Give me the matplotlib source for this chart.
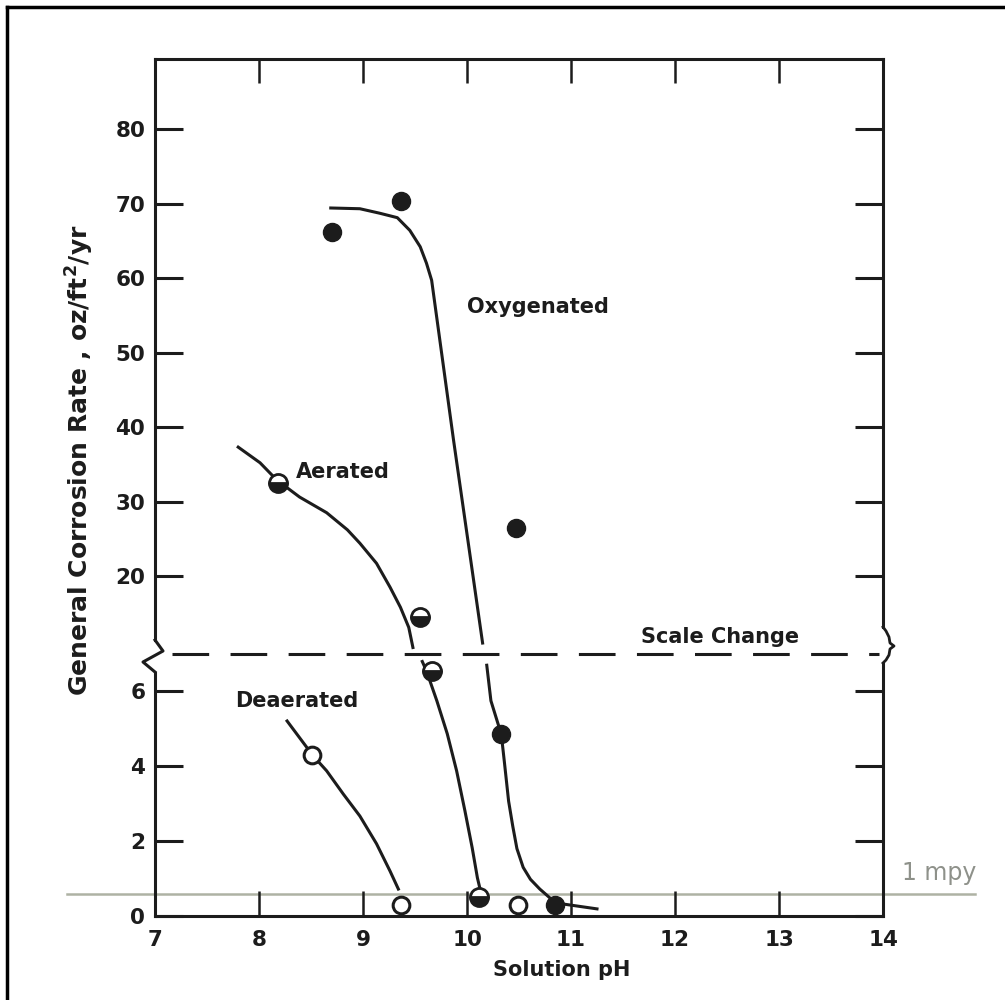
import numpy as np
import matplotlib.pyplot as plt
from matplotlib.lines import Line2D

plt.rcParams['font.family'] = ['DejaVu Sans']
plt.rcParams['font.weight'] = 'bold'

# data
ph_oxy = [8.70, 9.37, 10.47, 10.33, 10.85]
rate_oxy = [66.2, 70.3, 26.5, 4.85, 0.30]
ph_aer = [8.18, 9.55, 9.66, 10.12]
rate_aer = [32.5, 14.5, 6.55, 0.50]
ph_dea = [8.51, 9.37, 10.49]
rate_dea = [4.30, 0.30, 0.30]

# hand drawn trend curves (nan = gap at the scale change)
oxy_curve_ph = [8.69, 8.97, 9.16, 9.33, 9.45, 9.55, 9.61, 9.66, 9.87, 10.15,
                np.nan,
                10.19, 10.23, 10.33, 10.36, 10.40, 10.44, 10.48, 10.54, 10.61,
                10.70, 10.77, 10.85, 11.25]
oxy_curve_rate = [69.4, 69.3, 68.7, 68.1, 66.4, 64.2, 62.0, 59.7, 38.3, 11.0,
                  np.nan,
                  6.7, 5.75, 4.85, 4.1, 3.07, 2.4, 1.8, 1.3, 0.98,
                  0.72, 0.55, 0.35, 0.19]
aer_curve_ph = [7.80, 8.01, 8.17, 8.39, 8.65, 8.85, 8.97, 9.13, 9.26, 9.36,
                9.44, 9.48, np.nan,
                9.57, 9.61, 9.71, 9.81, 9.90, 9.98, 10.05, 10.10, 10.13]
aer_curve_rate = [37.3, 35.2, 32.9, 30.6, 28.5, 26.2, 24.4, 21.7, 18.5, 15.8,
                  13.1, 10.4, np.nan,
                  6.8, 6.55, 5.75, 4.87, 3.88, 2.81, 1.82, 1.02, 0.67]
dea_curve_ph = [8.27, 8.52, 8.65, 8.81, 8.97, 9.13, 9.26, 9.34]
dea_curve_rate = [5.21, 4.28, 3.88, 3.26, 2.67, 1.93, 1.20, 0.72]

x_ticks = [7, 8, 9, 10, 11, 12, 13, 14]
y_ticks_lo = [0, 2, 4, 6]
y_ticks_hi = [20, 30, 40, 50, 60, 70, 80]
mpy_line = 0.59

ink = '#1c1c1c'
W, H = 1005, 1000


def fx(px):
    return px / W


def fy(py):
    return 1 - py / H


fig = plt.figure(figsize=(10.05, 10), dpi=100)
ax_hi = fig.add_axes([fx(155), fy(654), fx(883) - fx(155), fy(59) - fy(654)])
ax_lo = fig.add_axes([fx(155), fy(916), fx(883) - fx(155), fy(654) - fy(916)])

for ax in (ax_hi, ax_lo):
    ax.plot(oxy_curve_ph, oxy_curve_rate, color=ink, lw=2.2)
    ax.plot(aer_curve_ph, aer_curve_rate, color=ink, lw=2.2)
    ax.plot(dea_curve_ph, dea_curve_rate, color=ink, lw=2.2)
    ax.plot(ph_oxy, rate_oxy, 'o', ms=13, mfc=ink, mec=ink, zorder=5)
    ax.plot(ph_aer, rate_aer, 'o', ms=13, fillstyle='bottom', mfc=ink,
            markerfacecoloralt='white', mec=ink, mew=2, zorder=5)
    ax.plot(ph_dea, rate_dea, 'o', ms=12, mfc='white', mec=ink, mew=2.2,
            zorder=5)
    ax.set_xlim(7, 14)
    for s in ax.spines.values():
        s.set_linewidth(2.2)
        s.set_color(ink)
    ax.tick_params(axis='y', direction='in', length=20, width=2.2,
                   left=True, right=True, labelsize=15.5, pad=7,
                   colors=ink)

ax_hi.set_ylim(9.53, 89.4)
ax_hi.set_yticks(y_ticks_hi)
ax_hi.set_xticks(x_ticks[1:-1])
ax_hi.tick_params(axis='x', direction='in', length=17, width=1.8,
                  top=True, bottom=False, labelbottom=False, colors=ink)
ax_hi.spines['bottom'].set_visible(False)
ax_hi.spines['left'].set_bounds(11.4, 89.4)
ax_hi.spines['right'].set_bounds(13.2, 89.4)

ax_lo.set_ylim(0, 7)
ax_lo.set_yticks(y_ticks_lo)
ax_lo.set_xticks(x_ticks)
ax_lo.tick_params(axis='x', direction='in', length=18, width=1.8,
                  labelsize=15.5, pad=10, colors=ink)
ax_lo.spines['top'].set_visible(False)
ax_lo.spines['left'].set_bounds(0, 6.5)
ax_lo.spines['right'].set_bounds(0, 6.74)

# scale change line and 1 mpy reference
ax_lo.axhline(7, xmin=0.023, xmax=0.995, color=ink, lw=2.2,
              ls=(0, (12, 7)), clip_on=False, zorder=6)
ax_lo.axhline(mpy_line, xmin=-0.121, xmax=1.126, color='#aeb2a4', lw=1.8,
              clip_on=False, zorder=1)
ax_lo.text(1.128, 0.165, '1 mpy', transform=ax_lo.transAxes, ha='right',
           va='center', fontsize=17, color='#8e918a', fontweight='normal')

ax_hi.text(10.0, 56.1, 'Oxygenated', fontsize=15, ha='left', va='center',
           color=ink)
ax_hi.text(8.35, 34.0, 'Aerated', fontsize=15, ha='left', va='center',
           color=ink)
ax_hi.text(12.43, 11.8, 'Scale Change', fontsize=15, ha='center',
           va='center', color=ink)
ax_lo.text(7.77, 5.75, 'Deaerated', fontsize=15, ha='left', va='center',
           color=ink)

fig.text(fx(80), fy(460), 'General Corrosion Rate , oz/ft$^{\\mathbf{2}}$/yr',
         rotation=90, ha='center', va='center', fontsize=18, color=ink)
fig.text(fx(562), fy(970), 'Solution pH', ha='center', va='center',
         fontsize=15, color=ink)

# break marks on the y axis spines
fig.add_artist(Line2D([fx(155), fx(163), fx(143), fx(155)],
                      [fy(640), fy(651), fy(662), fy(672)],
                      color=ink, lw=2.2))
brace_x = [883, 886, 889, 890, 894, 890, 889, 886, 883]
brace_y = [627, 631, 637, 643, 646, 649, 655, 660, 663]
fig.add_artist(Line2D([fx(v) for v in brace_x], [fy(v) for v in brace_y],
                      color=ink, lw=2.0))

# page border (top and left only, as scanned)
fig.add_artist(Line2D([fx(7), 1], [fy(7), fy(7)], color='black', lw=2.5))
fig.add_artist(Line2D([fx(7), fx(7)], [fy(7), 0], color='black', lw=2.5))

fig.savefig('out.png', dpi=100)
